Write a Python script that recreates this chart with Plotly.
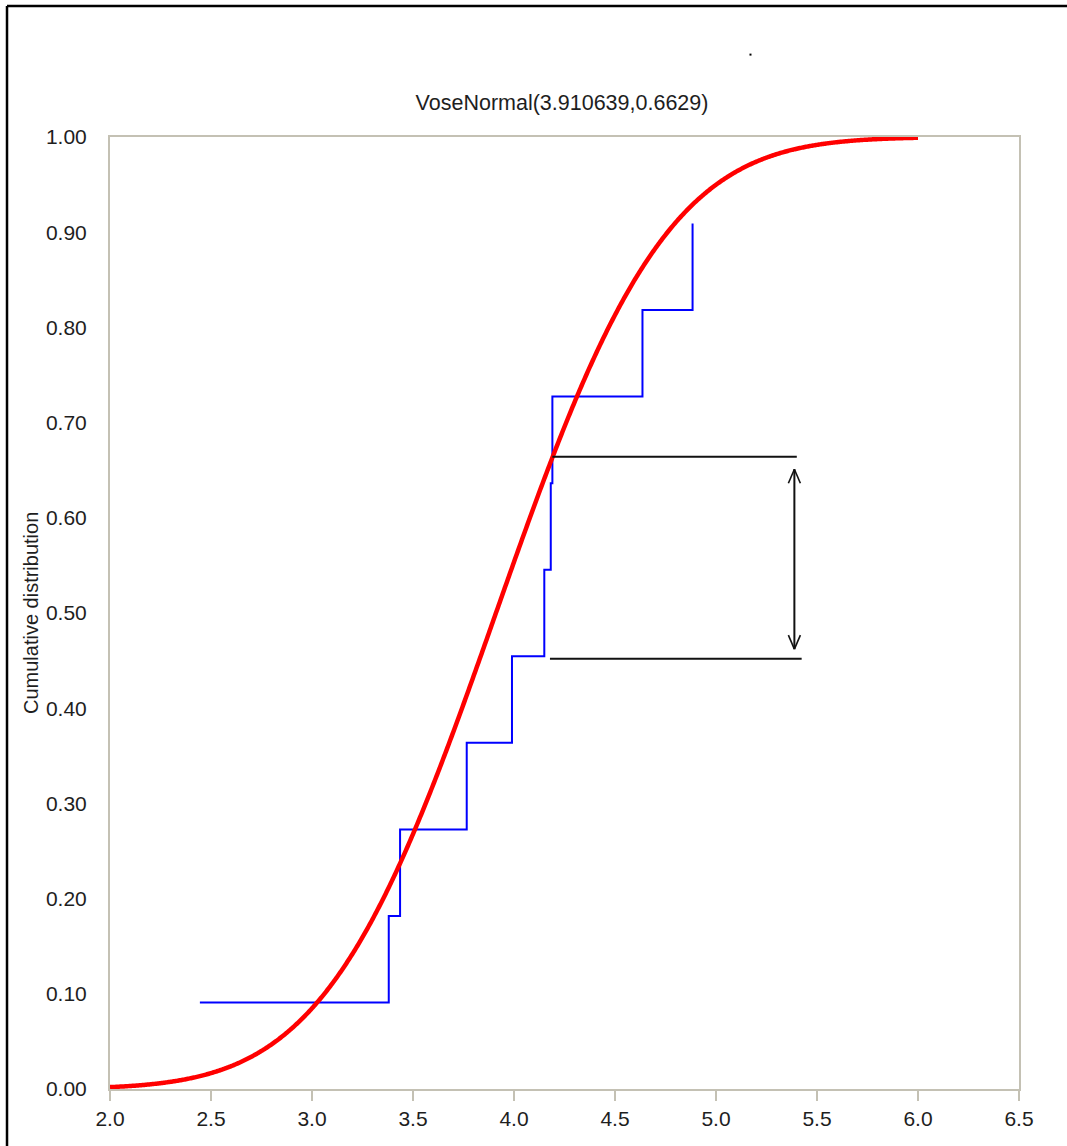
import math
import plotly.graph_objects as go

# Fitted distribution parameters
mu = 3.910639
sigma = 0.6629

# Empirical cumulative distribution (step positions and levels)
ecdf_x = [2.445, 3.38, 3.436, 3.766, 3.99, 4.15, 4.182, 4.19, 4.636, 4.884]
ecdf_level = [0.0909, 0.1818, 0.2727, 0.3636, 0.4545, 0.5455, 0.6364, 0.7273, 0.8182, 0.9091]

# Maximum-distance markers
upper_line_x = [4.19, 5.40]
upper_line_y = [0.664, 0.664]
lower_line_x = [4.178, 5.424]
lower_line_y = [0.452, 0.452]
arrow_x = 5.388
arrow_y_top = 0.651
arrow_y_bottom = 0.462

# Axis ticks
x_ticks = [2.0, 2.5, 3.0, 3.5, 4.0, 4.5, 5.0, 5.5, 6.0, 6.5]
y_ticks = [0.0, 0.1, 0.2, 0.3, 0.4, 0.5, 0.6, 0.7, 0.8, 0.9, 1.0]

# Normal CDF sampled over the fitted range
cdf_x = [2.0 + i * 0.005 for i in range(801)]
cdf_y = [0.5 * (1.0 + math.erf((x - mu) / (sigma * math.sqrt(2.0)))) for x in cdf_x]

FONT = "Liberation Sans, Arial, sans-serif"
TEXT = "#1e1e1e"
AXIS = "#c4c1b4"
INK = "#111111"

fig = go.Figure()

fig.add_trace(go.Scatter(
    x=ecdf_x, y=ecdf_level, mode="lines", line_shape="hv",
    line=dict(color="#0000ff", width=2), showlegend=False, hoverinfo="skip",
))
fig.add_trace(go.Scatter(
    x=cdf_x, y=cdf_y, mode="lines",
    line=dict(color="#ff0000", width=4.5, simplify=False),
    showlegend=False, hoverinfo="skip",
))
fig.add_trace(go.Scatter(
    x=upper_line_x, y=upper_line_y, mode="lines",
    line=dict(color=INK, width=2), showlegend=False, hoverinfo="skip",
))
fig.add_trace(go.Scatter(
    x=lower_line_x, y=lower_line_y, mode="lines",
    line=dict(color=INK, width=2), showlegend=False, hoverinfo="skip",
))
# Arrow shaft
fig.add_trace(go.Scatter(
    x=[arrow_x, arrow_x], y=[arrow_y_bottom, arrow_y_top], mode="lines",
    line=dict(color=INK, width=2), showlegend=False, hoverinfo="skip",
))

# Open V arrowheads at both ends of the shaft, sized in pixels
for anchor_y, direction in ((arrow_y_top, -1), (arrow_y_bottom, 1)):
    for side in (-1, 1):
        fig.add_shape(
            type="line", xref="x", yref="y",
            xsizemode="pixel", ysizemode="pixel",
            xanchor=arrow_x, yanchor=anchor_y,
            x0=0, y0=0, x1=side * 6, y1=direction * 14,
            line=dict(color=INK, width=1.6),
        )

# Y axis title
fig.add_annotation(
    x=-0.0869, y=0.5, xref="paper", yref="paper",
    xanchor="center", yanchor="middle",
    text="Cumulative distribution", textangle=-90, showarrow=False,
    font=dict(family=FONT, size=20, color=TEXT),
)

# Outer frame (left and top edges) and a stray dot
fig.add_shape(type="line", xref="paper", yref="paper",
              x0=-0.1133, x1=-0.1133, y0=1.1376, y1=-0.07,
              line=dict(color="#000000", width=2.5))
fig.add_shape(type="line", xref="paper", yref="paper",
              x0=-0.1133, x1=1.06, y0=1.1376, y1=1.1376,
              line=dict(color="#000000", width=2.5))
fig.add_shape(type="rect", xref="paper", yref="paper",
              x0=0.7035, x1=0.7057, y0=1.0855, y1=1.0876,
              line=dict(width=0), fillcolor="#000000")

fig.update_layout(
    width=1067, height=1146,
    margin=dict(l=110, r=48, t=137, b=57),
    paper_bgcolor="#ffffff", plot_bgcolor="#ffffff",
    font=dict(family=FONT, size=21, color=TEXT),
    title=dict(
        text=f"VoseNormal({mu},{sigma})",
        x=(562 - 110) / 909, xref="paper", xanchor="center",
        y=1 - 102 / 1146, yref="container", yanchor="middle",
        font=dict(family=FONT, size=21.5, color=TEXT),
    ),
    showlegend=False,
)

fig.update_xaxes(
    range=[2.0, 6.5], tickvals=x_ticks, ticktext=[f"{v:.1f}" for v in x_ticks],
    showgrid=False, zeroline=False,
    showline=True, mirror=True, linecolor=AXIS, linewidth=2,
    ticks="outside", ticklen=10, tickwidth=2, tickcolor=AXIS,
    ticklabelstandoff=0,
    tickfont=dict(family=FONT, size=21, color=TEXT),
)
fig.update_yaxes(
    range=[0.0, 1.0], tickvals=y_ticks, ticktext=[f"{v:.2f}" for v in y_ticks],
    showgrid=False, zeroline=False,
    showline=True, mirror=True, linecolor=AXIS, linewidth=2,
    ticks="", ticklabelstandoff=17,
    tickfont=dict(family=FONT, size=21, color=TEXT),
)

fig.write_html("out.html")
